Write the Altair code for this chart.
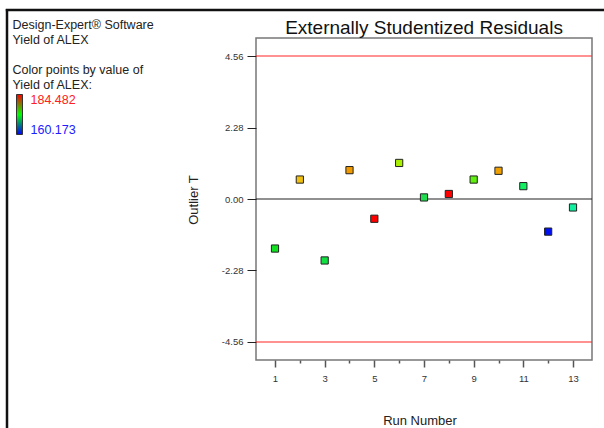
import altair as alt
import pandas as pd

# ---- data ----
run_number = list(range(1, 14))
outlier_t = [-1.58, 0.62, -1.96, 0.92, -0.63, 1.15, 0.05, 0.16, 0.62, 0.90, 0.41, -1.04, -0.27]
point_color = ["#10e020", "#f0c010", "#10e040", "#f09a00", "#ff0000", "#a8f000", "#20dd50",
               "#ff0000", "#60f010", "#f0a000", "#10f060", "#0010f0", "#10f0a0"]
limit_values = [4.56, 0.0, -4.56]
limit_colors = ["#ff2525", "#222222", "#ff2525"]
y_ticks = [-4.56, -2.28, 0.0, 2.28, 4.56]
x_ticks = list(range(1, 14))
yield_max = "184.482"
yield_min = "160.173"

FONT = "Liberation Sans"

pts = pd.DataFrame({"run": run_number, "t": outlier_t, "c": point_color})
lims = pd.DataFrame({"v": limit_values, "c": limit_colors})
one = pd.DataFrame({"_": [0]})

xscale = alt.Scale(domain=[0.235, 13.765], nice=False, zero=False)
yscale = alt.Scale(domain=[-5.134, 5.134], nice=False, zero=False)

xaxis = alt.Axis(
    values=x_ticks, title=None, grid=False, domain=False,
    labelExpr="datum.value % 2 == 1 ? datum.label : ''",
    tickSize={"condition": {"test": "datum.value % 2 == 1", "value": 7}, "value": 3},
    tickColor="#555555", tickWidth=1.5, labelPadding=6, labelFontSize=9.5,
    labelFont=FONT, labelColor="#333333",
)
yaxis = alt.Axis(
    values=y_ticks, title=None, grid=False, domain=False,
    labelExpr="replace(format(datum.value, '.2f'), '\u2212', '-')",
    tickSize=9, tickColor="#222222", tickWidth=1, labelPadding=4,
    labelFontSize=9.5, labelFont=FONT, labelColor="#333333",
)

rules = alt.Chart(lims).mark_rule(strokeWidth=1.2).encode(
    y=alt.Y("v:Q", scale=yscale, axis=yaxis),
    color=alt.Color("c:N", scale=None),
)

points = alt.Chart(pts).mark_point(
    shape="square", filled=True, size=52, stroke="#222222", strokeWidth=1, opacity=1
).encode(
    x=alt.X("run:Q", scale=xscale, axis=xaxis),
    y=alt.Y("t:Q", scale=yscale, axis=yaxis),
    fill=alt.Fill("c:N", scale=None),
)

base = alt.Chart(one)

def txt(s, x, y, size=12.5, color="#222222", align="left", angle=0):
    kw = dict(text=s, fontSize=size, font=FONT, color=color, align=align, baseline="alphabetic")
    if angle:
        kw["angle"] = angle
        kw["baseline"] = "middle"
    return base.mark_text(**kw).encode(x=alt.value(x), y=alt.value(y))

title = txt("Externally Studentized Residuals", 168, -4.5, size=19, align="center", color="#111111")
ylab = txt("Outlier T", -62, 162, size=13, align="center", angle=270)
xlab = txt("Run Number", 164, 387, size=13, align="center")

legend_lines = [
    txt("Design-Expert\u00ae Software", -243.5, -9),
    txt("Yield of ALEX", -243.5, 6),
    txt("Color points by value of", -243.5, 36),
    txt("Yield of ALEX:", -243.5, 51),
    txt(yield_max, -225.5, 66, color="#ff2020"),
    txt(yield_min, -225.5, 96, color="#2020ff"),
]

grad = base.mark_rect(
    fill=alt.LinearGradient(
        gradient="linear",
        stops=[alt.GradientStop(color="#ff0000", offset=0),
               alt.GradientStop(color="#00ff00", offset=0.5),
               alt.GradientStop(color="#0000ff", offset=1)],
        x1=0, x2=0, y1=0, y2=1,
    ),
    stroke="#333333", strokeWidth=1,
).encode(x=alt.value(-239.5), x2=alt.value(-233.5), y=alt.value(56.5), y2=alt.value(96.5))

frame_left = base.mark_rule(color="#111111", strokeWidth=2.5).encode(
    x=alt.value(-249), y=alt.value(-29), y2=alt.value(400))
frame_top = base.mark_rule(color="#111111", strokeWidth=2.5).encode(
    x=alt.value(-250.2), x2=alt.value(360), y=alt.value(-28))

chart = alt.layer(
    rules, points, title, ylab, xlab, grad, *legend_lines, frame_left, frame_top
).resolve_scale(color="independent").properties(
    width=336, height=322,
    autosize=alt.AutoSizeParams(type="none"),
    padding={"left": 256, "top": 38, "right": 12, "bottom": 68},
    background="white",
).configure_view(stroke="#777777", strokeWidth=1.5)

chart.save("out.html", embed_options={"renderer": "svg", "actions": False})
